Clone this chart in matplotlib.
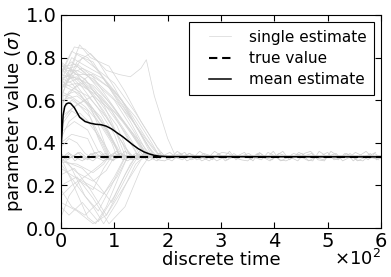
import matplotlib
matplotlib.use('Agg')
import matplotlib.pyplot as plt
from matplotlib.legend_handler import HandlerLine2D
from matplotlib.ticker import FuncFormatter

# single estimate trajectories, (time step, value) pairs
single_estimates = [
    [(0, 0.78), (5, 0.77), (30, 0.72), (60, 0.62), (90, 0.50), (120, 0.38), (135, 0.335), (300, 0.34), (600, 0.335)],
    [(0, 0.70), (20, 0.72), (50, 0.65), (80, 0.55), (110, 0.42), (130, 0.34), (350, 0.33), (600, 0.335)],
    [(0, 0.65), (10, 0.68), (40, 0.80), (60, 0.78), (90, 0.66), (130, 0.50), (160, 0.36), (170, 0.335), (600, 0.33)],
    [(0, 0.72), (25, 0.85), (45, 0.84), (70, 0.78), (100, 0.66), (140, 0.48), (175, 0.34), (600, 0.335)],
    [(0, 0.60), (30, 0.62), (60, 0.56), (90, 0.45), (110, 0.34), (600, 0.33)],
    [(0, 0.68), (15, 0.74), (45, 0.70), (80, 0.58), (100, 0.47), (120, 0.34), (600, 0.34)],
    [(0, 0.55), (20, 0.60), (50, 0.55), (70, 0.42), (85, 0.34), (600, 0.335)],
    [(0, 0.75), (20, 0.70), (50, 0.60), (70, 0.48), (90, 0.34), (600, 0.33)],
    [(0, 0.62), (30, 0.78), (55, 0.82), (85, 0.74), (110, 0.72), (130, 0.71), (150, 0.75), (160, 0.79),
     (175, 0.62), (200, 0.42), (215, 0.335), (600, 0.335)],
    [(0, 0.70), (40, 0.75), (80, 0.70), (120, 0.58), (160, 0.42), (185, 0.34), (600, 0.33)],
    [(0, 0.66), (30, 0.68), (70, 0.62), (110, 0.52), (150, 0.40), (170, 0.335), (600, 0.34)],
    [(0, 0.58), (25, 0.66), (55, 0.72), (90, 0.66), (130, 0.52), (165, 0.38), (180, 0.335), (600, 0.335)],
    [(0, 0.48), (20, 0.55), (50, 0.50), (80, 0.40), (95, 0.335), (600, 0.33)],
    [(0, 0.77), (15, 0.72), (40, 0.66), (70, 0.56), (100, 0.44), (115, 0.34), (600, 0.335)],
    [(0, 0.64), (35, 0.86), (55, 0.80), (90, 0.76), (120, 0.64), (150, 0.50), (180, 0.38), (195, 0.335), (600, 0.33)],
    [(0, 0.52), (30, 0.58), (60, 0.62), (95, 0.55), (125, 0.42), (145, 0.335), (600, 0.335)],
    [(0, 0.74), (30, 0.76), (65, 0.68), (100, 0.60), (140, 0.44), (160, 0.34), (600, 0.34)],
    [(0, 0.45), (25, 0.50), (50, 0.46), (70, 0.36), (80, 0.335), (600, 0.33)],
    [(0, 0.69), (20, 0.80), (40, 0.77), (75, 0.72), (115, 0.60), (145, 0.46), (170, 0.34), (600, 0.335)],
    [(0, 0.40), (20, 0.44), (50, 0.42), (65, 0.34), (600, 0.335)],
    [(0, 0.71), (10, 0.66), (35, 0.63), (65, 0.52), (95, 0.40), (105, 0.335), (600, 0.33)],
    [(0, 0.76), (25, 0.74), (60, 0.66), (95, 0.55), (130, 0.42), (150, 0.335), (600, 0.335)],
    [(0, 0.36), (3, 0.70), (20, 0.68), (45, 0.60), (75, 0.50), (105, 0.38), (115, 0.335), (600, 0.34)],
    [(0, 0.34), (4, 0.62), (25, 0.64), (55, 0.58), (85, 0.46), (110, 0.34), (600, 0.335)],
    [(0, 0.74), (20, 0.78), (45, 0.73), (75, 0.64), (105, 0.54), (135, 0.44), (165, 0.335), (600, 0.33)],
    [(0, 0.67), (30, 0.70), (60, 0.67), (95, 0.58), (130, 0.46), (155, 0.36), (165, 0.335), (600, 0.335)],
    [(0, 0.63), (25, 0.60), (55, 0.52), (75, 0.42), (90, 0.335), (600, 0.34)],
    [(0, 0.72), (35, 0.70), (70, 0.60), (105, 0.48), (125, 0.36), (135, 0.335), (600, 0.33)],
    [(0, 0.57), (15, 0.64), (40, 0.68), (75, 0.62), (115, 0.50), (150, 0.38), (160, 0.335), (600, 0.335)],
    [(0, 0.78), (10, 0.74), (30, 0.74), (60, 0.70), (95, 0.62), (135, 0.50), (170, 0.38), (185, 0.335), (600, 0.34)],
    [(0, 0.50), (20, 0.56), (45, 0.60), (75, 0.52), (100, 0.40), (110, 0.335), (600, 0.33)],
    [(0, 0.69), (20, 0.66), (50, 0.62), (85, 0.52), (115, 0.40), (125, 0.335), (600, 0.335)],
    [(0, 0.61), (30, 0.82), (50, 0.80), (80, 0.70), (115, 0.58), (150, 0.44), (175, 0.335), (600, 0.34)],
    [(0, 0.42), (15, 0.50), (35, 0.54), (60, 0.48), (80, 0.38), (88, 0.335), (600, 0.33)],
    [(0, 0.73), (20, 0.83), (40, 0.80), (70, 0.74), (100, 0.68), (140, 0.54), (175, 0.40), (190, 0.335), (600, 0.335)],
    [(0, 0.38), (15, 0.42), (30, 0.40), (45, 0.35), (55, 0.335), (600, 0.34)],
    [(0, 0.66), (25, 0.72), (60, 0.72), (100, 0.64), (140, 0.52), (170, 0.40), (185, 0.335), (600, 0.33)],
    [(0, 0.60), (12, 0.70), (30, 0.71), (55, 0.66), (85, 0.57), (120, 0.45), (145, 0.34), (600, 0.335)],
    [(0, 0.64), (18, 0.62), (45, 0.57), (80, 0.47), (105, 0.37), (112, 0.335), (600, 0.34)],
    [(0, 0.70), (8, 0.76), (30, 0.77), (60, 0.71), (90, 0.60), (125, 0.47), (158, 0.34), (600, 0.33)],
    [(0, 0.33), (20, 0.22), (50, 0.05), (65, 0.02), (85, 0.10), (110, 0.25), (125, 0.335), (600, 0.335)],
    [(0, 0.10), (15, 0.06), (40, 0.12), (70, 0.03), (100, 0.15), (130, 0.30), (140, 0.335), (600, 0.33)],
    [(0, 0.30), (30, 0.20), (60, 0.10), (80, 0.02), (105, 0.12), (140, 0.30), (155, 0.335), (600, 0.335)],
    [(0, 0.25), (25, 0.28), (55, 0.18), (85, 0.06), (115, 0.18), (150, 0.32), (160, 0.335), (600, 0.34)],
    [(0, 0.35), (20, 0.28), (45, 0.15), (70, 0.08), (95, 0.20), (120, 0.33), (600, 0.335)],
    [(0, 0.20), (30, 0.24), (60, 0.14), (90, 0.02), (120, 0.10), (150, 0.28), (165, 0.335), (600, 0.33)],
    [(0, 0.33), (30, 0.26), (60, 0.22), (85, 0.27), (100, 0.335), (600, 0.335)],
    [(0, 0.15), (20, 0.20), (50, 0.25), (75, 0.30), (90, 0.335), (600, 0.34)],
    [(0, 0.32), (40, 0.28), (70, 0.20), (95, 0.12), (120, 0.25), (140, 0.335), (600, 0.335)],
    [(0, 0.05), (15, 0.15), (35, 0.22), (60, 0.18), (80, 0.28), (95, 0.335), (600, 0.33)],
    [(0, 0.28), (25, 0.24), (55, 0.20), (80, 0.16), (105, 0.24), (125, 0.335), (600, 0.335)],
    [(0, 0.18), (20, 0.10), (45, 0.06), (70, 0.12), (100, 0.24), (120, 0.335), (600, 0.34)],
    [(0, 0.31), (30, 0.30), (60, 0.26), (80, 0.30), (90, 0.335), (600, 0.33)],
    [(0, 0.12), (30, 0.08), (60, 0.02), (85, 0.06), (110, 0.18), (135, 0.30), (145, 0.335), (600, 0.335)],
]

# fuzz around the true value, one value every 12 steps, each trace on its own grid
noise_a_t = list(range(0, 601, 12))
noise_b_t = list(range(4, 601, 12))
noise_c_t = list(range(8, 601, 12))
noise_d_t = list(range(2, 601, 12))
noise_a = [0.35, 0.32, 0.34, 0.355, 0.33, 0.315, 0.34, 0.35, 0.32, 0.33, 0.36, 0.34, 0.32, 0.35, 0.33,
           0.315, 0.34, 0.355, 0.33, 0.32, 0.35, 0.34, 0.315, 0.33, 0.36, 0.34, 0.32, 0.35, 0.33, 0.34,
           0.315, 0.355, 0.33, 0.32, 0.35, 0.34, 0.33, 0.315, 0.35, 0.36, 0.33, 0.32, 0.34, 0.35, 0.315,
           0.33, 0.355, 0.34, 0.32, 0.35, 0.33]
noise_b = [0.32, 0.35, 0.33, 0.315, 0.34, 0.355, 0.33, 0.32, 0.35, 0.34, 0.315, 0.33, 0.36, 0.32, 0.34,
           0.35, 0.33, 0.315, 0.34, 0.355, 0.32, 0.33, 0.35, 0.34, 0.315, 0.33, 0.36, 0.32, 0.34, 0.35,
           0.33, 0.32, 0.355, 0.34, 0.315, 0.33, 0.35, 0.34, 0.32, 0.315, 0.36, 0.34, 0.33, 0.32, 0.35,
           0.34, 0.315, 0.33, 0.35, 0.32]
noise_c = [0.34, 0.33, 0.355, 0.32, 0.35, 0.33, 0.315, 0.34, 0.36, 0.32, 0.33, 0.35, 0.34, 0.315, 0.33,
           0.355, 0.32, 0.34, 0.35, 0.315, 0.33, 0.36, 0.34, 0.32, 0.35, 0.315, 0.33, 0.34, 0.355, 0.32,
           0.35, 0.33, 0.315, 0.34, 0.36, 0.32, 0.34, 0.35, 0.315, 0.33, 0.34, 0.355, 0.32, 0.33, 0.35,
           0.315, 0.34, 0.36, 0.33, 0.32]
noise_d = [0.33, 0.355, 0.315, 0.34, 0.32, 0.35, 0.36, 0.33, 0.315, 0.35, 0.34, 0.32, 0.33, 0.355, 0.35,
           0.32, 0.315, 0.33, 0.36, 0.34, 0.35, 0.32, 0.33, 0.315, 0.34, 0.355, 0.35, 0.33, 0.32, 0.315,
           0.34, 0.35, 0.33, 0.36, 0.32, 0.315, 0.33, 0.355, 0.34, 0.35, 0.32, 0.315, 0.36, 0.34, 0.33,
           0.35, 0.32, 0.315, 0.34, 0.355]

# mean over all estimates
mean_t = [0, 2, 4, 7, 10, 14, 18, 25, 35, 45, 55, 65, 75, 85, 95, 105, 115, 125, 135, 145,
          155, 165, 175, 185, 200, 600]
mean_v = [0.37, 0.45, 0.53, 0.57, 0.583, 0.587, 0.585, 0.565, 0.52, 0.50, 0.492, 0.487, 0.485,
          0.478, 0.465, 0.447, 0.43, 0.41, 0.39, 0.372, 0.358, 0.348, 0.341, 0.337, 0.335, 0.334]

true_value = 1.0 / 3.0

plt.rcParams['font.family'] = 'DejaVu Sans'
plt.rcParams['mathtext.fontset'] = 'dejavusans'

fig, ax = plt.subplots(figsize=(3.91, 2.77), dpi=100)
fig.subplots_adjust(left=61 / 391, right=381 / 391, bottom=1 - 228 / 277, top=1 - 15 / 277)

gray = '#d6d6d6'
for i, traj in enumerate(single_estimates):
    ax.plot([p[0] for p in traj], [p[1] for p in traj], color=gray, lw=0.5,
            label='single estimate' if i == 0 else None)
for nt, nv in ((noise_a_t, noise_a), (noise_b_t, noise_b), (noise_c_t, noise_c), (noise_d_t, noise_d)):
    ax.plot(nt[:len(nv)], nv, color='#cccccc', lw=0.5)

ax.axhline(true_value, color='k', ls='--', lw=1.5, label='true value', dashes=(4, 2.3))
ax.plot(mean_t, mean_v, color='k', lw=1.1, label='mean estimate')

ax.set_xlim(0, 600)
ax.set_ylim(0, 1.0)
ax.set_xticks([0, 100, 200, 300, 400, 500, 600])
ax.set_yticks([0, 0.2, 0.4, 0.6, 0.8, 1.0])
# ticks in units of 10^2, offset written at the lower right
ax.xaxis.set_major_formatter(FuncFormatter(lambda v, pos: '{:d}'.format(int(round(v / 100)))))
ax.text(1.0, -0.172, r'$\times10^{2}$', transform=ax.transAxes, ha='right', va='baseline', fontsize=13)

ax.tick_params(direction='in', top=True, right=True, labelsize=14, length=4, width=0.8, pad=3)
ax.set_xlabel('discrete time', fontsize=13, labelpad=0)
ax.set_ylabel(r'parameter value ($\sigma$)', fontsize=13, labelpad=1)

# old-style legend: handle lines inset inside the handle box
leg = ax.legend(loc='upper right', fontsize=11, fancybox=False, framealpha=1,
                edgecolor='k', handlelength=2.25, handletextpad=1.15, borderpad=0.5,
                labelspacing=0.42, borderaxespad=0.45,
                handler_map={matplotlib.lines.Line2D: HandlerLine2D(xpad=0.8)})
leg.get_frame().set_linewidth(0.8)

fig.savefig('out.png', dpi=100)
